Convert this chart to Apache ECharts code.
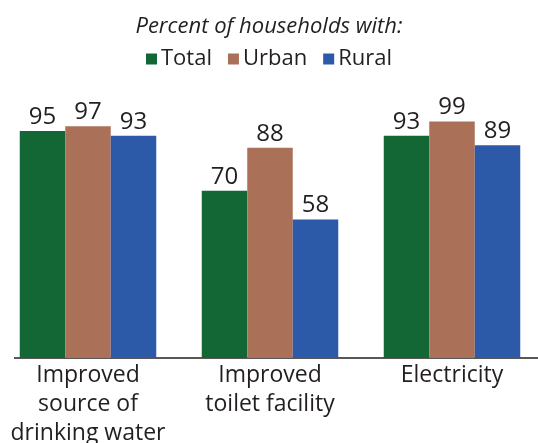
<!DOCTYPE html>
<html><head><meta charset="utf-8">
<script src="https://cdn.jsdelivr.net/npm/echarts@6/dist/echarts.min.js"></script>
<style>html,body{margin:0;padding:0;background:#fff}#c{width:538px;height:443px}</style>
</head><body><div id="c"></div>
<script>
const categories = ["Improved\nsource of\ndrinking water", "Improved\ntoilet facility", "Electricity"];
const seriesNames = ["Total", "Urban", "Rural"];
const totalValues = [95, 70, 93];
const urbanValues = [97, 88, 99];
const ruralValues = [93, 58, 89];
const colors = ["#136734", "#ab7158", "#2c5aa8"];
const subtitle = "Percent of households with:";

const font = "'Open Sans', 'Noto Sans', sans-serif";
const txt = "#231f20";
const chart = echarts.init(document.getElementById('c'), null, {renderer: 'canvas'});
const values = [totalValues, urbanValues, ruralValues];
chart.setOption({
  animation: false,
  title: {
    text: subtitle, left: 'center', top: 11,
    textStyle: {fontFamily: font, fontSize: 22, fontStyle: 'italic', fontWeight: 'normal', color: txt}
  },
  legend: {
    data: seriesNames, top: 43, left: 'center', icon: 'rect', itemWidth: 11, itemHeight: 11,
    itemGap: 16, textStyle: {fontFamily: font, fontSize: 22, color: txt, padding: [0, 0, 0, -1]}
  },
  graphic: [{
    type: 'line', shape: {x1: 14, y1: 358, x2: 538, y2: 358},
    style: {stroke: '#231f20', lineWidth: 1.5}
  }],
  grid: {left: -3, width: 546, top: 119, height: 239, outerBoundsMode: 'none', containLabel: false},
  xAxis: {
    type: 'category', data: categories,
    axisLine: {show: false}, axisTick: {show: false},
    axisLabel: {fontFamily: font, fontSize: 23, color: txt, lineHeight: 29, margin: 3, interval: 0}
  },
  yAxis: {type: 'value', min: 0, max: 100, show: false, splitLine: {show: false}},
  series: seriesNames.map((n, i) => ({
    name: n, type: 'bar', data: values[i], barGap: '0%', barCategoryGap: '25%',
    itemStyle: {color: colors[i]},
    label: {show: true, position: 'top', distance: 2, fontFamily: font, fontSize: 24, color: txt}
  }))
});
</script></body></html>
